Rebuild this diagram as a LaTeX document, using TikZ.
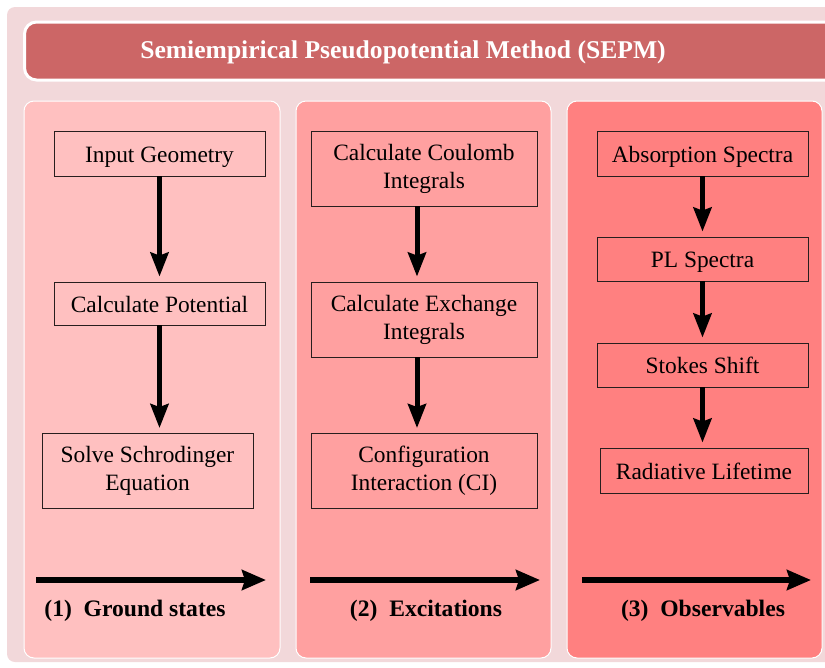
\documentclass[tikz,border=0pt]{standalone}
\usepackage{fontspec}
\setmainfont{Liberation Serif}
\usetikzlibrary{arrows.meta}
\definecolor{outerbg}{RGB}{242,216,218}
\definecolor{titlefill}{RGB}{204,102,102}
\definecolor{colA}{RGB}{255,192,192}
\definecolor{colB}{RGB}{255,160,160}
\definecolor{colC}{RGB}{255,128,128}
\definecolor{boxline}{RGB}{40,30,30}
\tikzset{
  panel/.style={draw=white, line width=1pt, rounded corners=10pt, inner sep=0pt},
  stepbox/.style={draw=boxline, line width=0.9pt, inner sep=0pt, align=center,
    font=\fontsize{23.4}{28}\selectfont},
  onebox/.style={stepbox, text height=22pt, text depth=5pt},
  flow/.style={line width=5pt, -{Stealth[length=24pt,width=18pt,inset=3pt]}, shorten >=5pt},
  stage/.style={line width=6pt, -{Stealth[length=24pt,width=20pt,inset=3pt]}},
  stagelabel/.style={font=\fontsize{23.6}{28}\bfseries\selectfont, inner sep=0pt},
}
\begin{document}
\begin{tikzpicture}[x=1pt,y=-1pt]
\useasboundingbox (0,0) rectangle (825,667);
\fill[outerbg, rounded corners=8pt] (7,7) rectangle (835,662);
% title
\node[draw=white, line width=3pt, fill=titlefill, rounded corners=12pt,
  minimum width=820pt, minimum height=58pt, anchor=west, inner sep=0pt] (title) at (23,51) {};
\node[text=white, font=\fontsize{25.6}{30}\bfseries\selectfont] (titletext) at (403,52)
  {Semiempirical Pseudopotential Method (SEPM)};
% panels
\node[panel, fill=colA, minimum width=256pt, minimum height=557pt] (p1) at (152,379.5) {};
\node[panel, fill=colB, minimum width=255pt, minimum height=557pt] (p2) at (423.5,379.5) {};
\node[panel, fill=colC, minimum width=255pt, minimum height=557pt] (p3) at (694.5,379.5) {};
% column 1
\node[onebox, minimum width=211pt, minimum height=45pt] (ig) at (159.5,153.5) {Input Geometry};
\node[onebox, minimum width=211pt, minimum height=43pt] (cp) at (159.5,303.5) {Calculate Potential};
\node[stepbox, minimum width=211pt, minimum height=75pt] (se) at (147.5,471) {Solve Schrodinger\\Equation};
% column 2
\node[stepbox, minimum width=226pt, minimum height=75pt] (ci) at (424,168.5) {Calculate Coulomb\\Integrals};
\node[stepbox, minimum width=226pt, minimum height=75pt] (ei) at (424,319.5) {Calculate Exchange\\Integrals};
\node[stepbox, minimum width=226pt, minimum height=75pt] (cf) at (424,471) {Configuration\\Interaction (CI)};
% column 3
\node[onebox, minimum width=211pt, minimum height=45pt] (as) at (702.5,153.5) {Absorption Spectra};
\node[onebox, minimum width=211pt, minimum height=44pt] (pl) at (702.5,259) {PL Spectra};
\node[onebox, minimum width=211pt, minimum height=44pt] (ss) at (702.5,365) {Stokes Shift};
\node[onebox, minimum width=208pt, minimum height=45pt] (rl) at (704,470.5) {Radiative Lifetime};
% vertical arrows
\draw[flow] (ig.south) -- (cp.north);
\draw[flow] (cp.south) -- (cp.south |- se.north);
\draw[flow] ([xshift=-7pt]ci.south) -- ([xshift=-7pt]ei.north);
\draw[flow] ([xshift=-7pt]ei.south) -- ([xshift=-7pt]cf.north);
\draw[flow] (as.south) -- (pl.north);
\draw[flow] (pl.south) -- (ss.north);
\draw[flow] (ss.south) -- (ss.south |- rl.north);
% stage arrows
\coordinate (a1s) at (36,580); \coordinate (a1e) at (266,580);
\coordinate (a2s) at (310,580); \coordinate (a2e) at (540,580);
\coordinate (a3s) at (582,580); \coordinate (a3e) at (811,580);
\draw[stage] (a1s) -- (a1e);
\draw[stage] (a2s) -- (a2e);
\draw[stage] (a3s) -- (a3e);
\node[stagelabel] (l1) at (135,611) {(1)\enspace Ground states};
\node[stagelabel] (l2) at (426,611) {(2)\enspace Excitations};
\node[stagelabel] (l3) at (703,611) {(3)\enspace Observables};
\end{tikzpicture}
\end{document}
